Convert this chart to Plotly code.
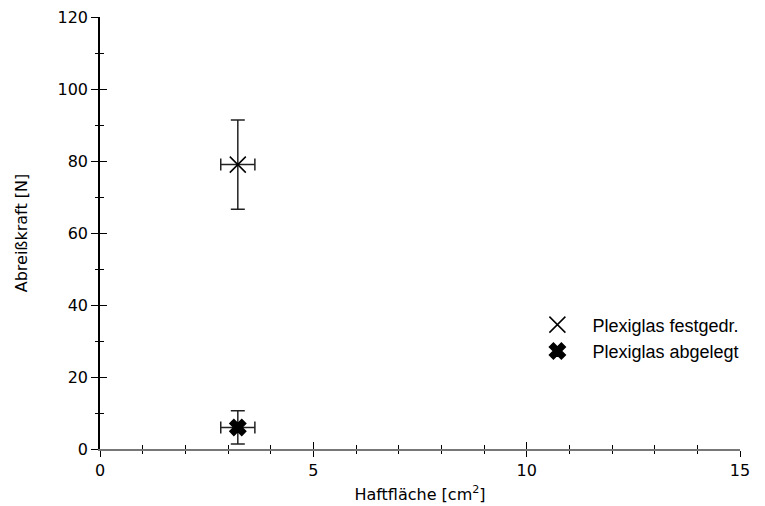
import plotly.graph_objects as go

series_names = ["Plexiglas festgedr.", "Plexiglas abgelegt"]
area = [3.23, 3.23]          # Haftfläche [cm²]
area_err = [0.4, 0.4]
force = [79.0, 6.0]          # Abreißkraft [N]
force_err = [12.4, 4.6]
symbols = ["x-thin-open", "x"]
sizes = [16, 14]

x_ticks = [0, 5, 10, 15]
y_ticks = [0, 20, 40, 60, 80, 100, 120]

fig = go.Figure()
for i in range(2):
    fig.add_trace(go.Scatter(
        x=[area[i]], y=[force[i]], mode="markers", name=series_names[i],
        marker=dict(symbol=symbols[i], size=sizes[i], color="black",
                    line=dict(color="black", width=1.5)),
        error_y=dict(type="data", array=[force_err[i]], color="#222",
                     thickness=1.5, width=7),
        error_x=dict(type="data", array=[area_err[i]], color="#222",
                     thickness=1.5, width=6),
    ))

# invisible trace to bring overlay axes (inside tick halves) to life
fig.add_trace(go.Scatter(x=[None], y=[None], xaxis="x2", yaxis="y2",
                         showlegend=False, hoverinfo="skip"))

tickfont = dict(family="DejaVu Sans", size=16, color="black")
titlefont = dict(family="DejaVu Sans", size=16, color="black")

fig.update_layout(
    width=765, height=506,
    margin=dict(l=92, r=33, t=9, b=65, autoexpand=False),
    plot_bgcolor="white", paper_bgcolor="white",
    font=tickfont,
    xaxis=dict(range=[0, 15], tickvals=x_ticks, showgrid=False, zeroline=False,
               showline=True, linecolor="#777", linewidth=1.5, automargin=False,
               ticks="outside", ticklen=6, tickwidth=1, tickcolor="black",
               ticklabeloverflow="allow",
               minor=dict(dtick=1, ticks="outside", ticklen=3, tickcolor="black", showgrid=False),
               tickfont=tickfont,
               title=dict(text="Haftfläche [cm<sup>2</sup>]", font=titlefont, standoff=10)),
    yaxis=dict(range=[0, 120], tickvals=y_ticks, showgrid=False, zeroline=False,
               showline=True, linecolor="black", linewidth=1.5, automargin=False,
               ticks="outside", ticklen=7, tickwidth=1, tickcolor="black",
               ticklabeloverflow="allow",
               minor=dict(dtick=10, ticks="outside", ticklen=3, tickcolor="black", showgrid=False),
               tickfont=tickfont,
               title=dict(text="Abreißkraft [N]", font=titlefont, standoff=26)),
    xaxis2=dict(range=[0, 15], overlaying="x", anchor="y", side="bottom",
                tickvals=x_ticks, showticklabels=False, showgrid=False, zeroline=False,
                automargin=False,
                ticks="inside", ticklen=7, tickwidth=1, tickcolor="black",
                minor=dict(dtick=1, ticks="inside", ticklen=4, tickcolor="black", showgrid=False)),
    yaxis2=dict(range=[0, 120], overlaying="y", anchor="x", side="left",
                tickvals=y_ticks, showticklabels=False, showgrid=False, zeroline=False,
                automargin=False,
                ticks="inside", ticklen=7, tickwidth=1, tickcolor="black",
                minor=dict(dtick=10, ticks="inside", ticklen=4, tickcolor="black", showgrid=False)),
    legend=dict(x=0.66, y=0.33, xanchor="left", yanchor="top",
                font=dict(family="Liberation Sans", size=18, color="black"),
                itemwidth=60, bgcolor="rgba(0,0,0,0)"),
    showlegend=True,
)

fig.write_html("out.html")
